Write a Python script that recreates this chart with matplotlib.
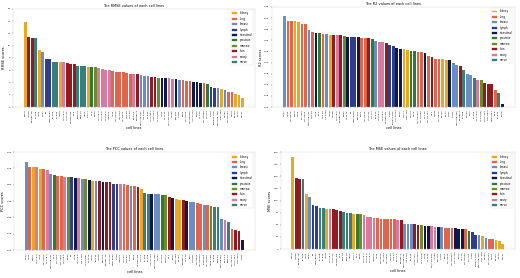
import matplotlib
matplotlib.use('Agg')
import matplotlib.pyplot as plt
from matplotlib.patches import Patch

# tissue types and their colours (legend order)
tissue_names = ['kidney', 'lung', 'breast', 'lymph', 'intestinal',
                'prostate', 'marrow', 'skin', 'ovary', 'nerve']
tissue_colors = ['#E8A825', '#E0654D', '#6A8DC4', '#2F3D8C', '#0E1A4E',
                 '#2F7A34', '#6E8A2C', '#931B1F', '#D87A9B', '#3A7E79']

# cell line names for each tissue
cell_line_pool = {
    'kidney': ['786-0', 'A498', 'ACHN', 'CAKI-1', 'RXF 393', 'SN12C', 'TK-10', 'UO-31',
               'SN12K1', '769-P', 'OS-RC-2', 'CAKI-2'],
    'lung': ['A549', 'NCI-H460', 'NCI-H23', 'NCI-H522', 'HOP-62', 'HOP-92', 'EKVX',
             'NCI-H226', 'NCI-H322M', 'NCI-H1650', 'NCI-H2122', 'MSTO', 'NCI-H520',
             'PC-9', 'CALU-3'],
    'breast': ['MCF7', 'MDA-MB-231', 'HS 578T', 'BT-549', 'T-47D', 'MDA-MB-468', 'ZR751',
               'KPL1', 'OCUBM', 'EFM192B', 'MDAMB436', 'HCC1937'],
    'lymph': ['SR', 'RPMI-8226', 'L-428', 'KARPAS-299', 'DOHH-2', 'SU-DHL-4'],
    'intestinal': ['HT29', 'HCT116', 'SW-620', 'COLO 205', 'KM12', 'HCT-15', 'DLD1',
                   'LOVO', 'RKO', 'SW837'],
    'prostate': ['PC-3', 'DU-145', 'LNCAP', 'VCAP', '22RV1'],
    'marrow': ['K-562', 'HL-60(TB)', 'MOLT-4', 'CCRF-CEM', 'MV4-11'],
    'skin': ['A2058', 'SK-MEL-28', 'UACC-62', 'MALME-3M', 'M14', 'SK-MEL-5', 'UACC-257',
             'LOX IMVI', 'RPMI7951', 'A375', 'SK-MEL-2'],
    'ovary': ['OVCAR-3', 'OVCAR-4', 'OVCAR-5', 'OVCAR-8', 'IGROV1', 'SK-OV-3',
              'NCI/ADR-RES', 'A2780', 'ES2'],
    'nerve': ['SF-268', 'SF-295', 'SF-539', 'SNB-19', 'SNB-75', 'U251', 'T98G'],
}

# RMSE / MSE panels (same ordering)
err_tissues = ['kidney', 'skin', 'skin', 'nerve', 'kidney', 'breast', 'lymph', 'lymph', 'nerve', 'nerve',
               'kidney', 'ovary', 'skin', 'skin', 'skin', 'nerve', 'nerve', 'nerve', 'kidney', 'prostate',
               'marrow', 'ovary', 'ovary', 'ovary', 'ovary', 'lung', 'lung', 'lung', 'lung', 'lung',
               'lung', 'ovary', 'skin', 'breast', 'breast', 'breast', 'skin', 'skin', 'marrow', 'intestinal',
               'intestinal', 'ovary', 'ovary', 'intestinal', 'breast', 'lung', 'lung', 'lung', 'intestinal', 'intestinal',
               'intestinal', 'lung', 'prostate', 'lymph', 'lymph', 'breast', 'kidney', 'breast', 'lung', 'lung',
               'kidney', 'kidney', 'kidney']
rmse_values = [13.82, 11.42, 11.26, 11.21, 9.36, 8.92, 7.89, 7.78, 7.40, 7.38,
               7.29, 7.27, 7.24, 7.07, 6.96, 6.75, 6.69, 6.64, 6.53, 6.51,
               6.47, 6.42, 6.20, 6.09, 5.98, 5.88, 5.77, 5.71, 5.66, 5.49,
               5.39, 5.37, 5.33, 5.22, 5.06, 5.00, 4.95, 4.90, 4.79, 4.77,
               4.68, 4.66, 4.57, 4.55, 4.46, 4.41, 4.30, 4.24, 4.13, 4.08,
               3.97, 3.86, 3.70, 3.26, 3.16, 3.05, 2.94, 2.83, 2.50, 2.39,
               2.12, 1.96, 1.41]
mse_values = [190.4, 147.3, 145.2, 145.0, 113.0, 108.2, 91.1, 89.1, 84.3, 84.1,
              83.6, 83.4, 83.2, 80.8, 78.8, 76.7, 75.4, 74.7, 73.3, 72.6,
              72.4, 71.2, 67.1, 65.8, 64.4, 63.7, 63.0, 62.3, 62.1, 61.7,
              61.0, 60.3, 59.6, 52.7, 52.1, 51.9, 51.4, 49.3, 49.1, 47.9,
              47.3, 46.6, 45.9, 45.7, 45.2, 44.5, 43.8, 43.2, 42.5, 41.8,
              41.1, 40.4, 37.7, 35.6, 29.5, 28.8, 26.0, 23.3, 21.2, 20.5,
              19.2, 17.1, 10.3]

# R2 panel
r2_tissues = ['breast', 'lung', 'lung', 'kidney', 'kidney', 'lung', 'lung', 'breast', 'lung', 'intestinal',
              'prostate', 'lung', 'breast', 'kidney', 'skin', 'ovary', 'skin', 'marrow', 'intestinal', 'lymph',
              'lymph', 'intestinal', 'lung', 'lung', 'skin', 'prostate', 'breast', 'ovary', 'ovary', 'skin',
              'lymph', 'lymph', 'intestinal', 'intestinal', 'kidney', 'kidney', 'prostate', 'prostate', 'lung', 'lung',
              'intestinal', 'lung', 'skin', 'lung', 'lung', 'kidney', 'kidney', 'intestinal', 'breast', 'breast',
              'skin', 'nerve', 'breast', 'breast', 'nerve', 'ovary', 'marrow', 'skin', 'skin', 'skin',
              'lung', 'nerve', 'intestinal']
r2_values = [0.410, 0.389, 0.387, 0.386, 0.384, 0.374, 0.372, 0.347, 0.336, 0.335,
             0.334, 0.329, 0.327, 0.326, 0.325, 0.324, 0.323, 0.320, 0.317, 0.316,
             0.316, 0.315, 0.312, 0.311, 0.309, 0.305, 0.299, 0.294, 0.293, 0.288,
             0.281, 0.275, 0.264, 0.263, 0.261, 0.257, 0.254, 0.253, 0.248, 0.246,
             0.245, 0.231, 0.227, 0.218, 0.216, 0.215, 0.213, 0.212, 0.197, 0.189,
             0.186, 0.167, 0.149, 0.144, 0.129, 0.122, 0.120, 0.107, 0.104, 0.102,
             0.077, 0.065, 0.012]

# PCC panel
pcc_tissues = ['breast', 'lung', 'kidney', 'ovary', 'kidney', 'lung', 'ovary', 'breast', 'prostate', 'lung',
               'lung', 'ovary', 'marrow', 'lymph', 'intestinal', 'ovary', 'breast', 'marrow', 'intestinal', 'kidney',
               'breast', 'skin', 'intestinal', 'skin', 'skin', 'lymph', 'lymph', 'ovary', 'lung', 'lung',
               'breast', 'lung', 'skin', 'kidney', 'nerve', 'nerve', 'intestinal', 'breast', 'breast', 'prostate',
               'marrow', 'skin', 'intestinal', 'kidney', 'kidney', 'skin', 'intestinal', 'breast', 'breast', 'lung',
               'lung', 'breast', 'lung', 'marrow', 'nerve', 'nerve', 'breast', 'ovary', 'nerve', 'lung',
               'skin', 'skin', 'intestinal']
pcc_values = [0.805, 0.765, 0.762, 0.759, 0.747, 0.741, 0.732, 0.698, 0.686, 0.680,
              0.677, 0.674, 0.668, 0.667, 0.664, 0.658, 0.657, 0.652, 0.643, 0.634,
              0.633, 0.631, 0.630, 0.628, 0.624, 0.609, 0.608, 0.606, 0.603, 0.600,
              0.588, 0.587, 0.582, 0.563, 0.521, 0.520, 0.519, 0.514, 0.511, 0.508,
              0.505, 0.487, 0.481, 0.465, 0.462, 0.456, 0.453, 0.444, 0.438, 0.429,
              0.425, 0.419, 0.413, 0.407, 0.398, 0.397, 0.282, 0.279, 0.260, 0.193,
              0.187, 0.174, 0.092]

color_of = dict(zip(tissue_names, tissue_colors))


def name_bars(tissue_seq):
    used = {t: 0 for t in tissue_names}
    names = []
    for t in tissue_seq:
        names.append(cell_line_pool[t][used[t]])
        used[t] += 1
    return names


def draw(ax, metric, tissue_seq, values, ylim, ystep):
    labels = name_bars(tissue_seq)
    x = list(range(len(values)))
    ax.bar(x, values, color=[color_of[t] for t in tissue_seq], width=0.8)
    ax.set_xticks(x)
    ax.set_xticklabels(labels, rotation=90, fontsize=7)
    ax.set_ylim(*ylim)
    n = int(round((ylim[1] - ylim[0]) / ystep))
    ax.set_yticks([ylim[0] + i * ystep for i in range(n + 1)])
    ax.tick_params(axis='y', labelsize=7)
    ax.set_title('The %s values of each cell lines' % metric, fontsize=10)
    ax.set_ylabel('%s scores' % metric, fontsize=10)
    ax.set_xlabel('cell lines', fontsize=10)
    for s in ax.spines.values():
        s.set_color('#bbbbbb')
    handles = [Patch(color=c, label=t) for t, c in zip(tissue_names, tissue_colors)]
    ax.legend(handles=handles, loc='upper right', fontsize=8)


fig = plt.figure(figsize=(20.8, 11.12), dpi=25)

ax1 = fig.add_axes([0.025, 0.615, 0.465, 0.353])
draw(ax1, 'RMSE', err_tissues, rmse_values, (0, 16), 2)

ax2 = fig.add_axes([0.523, 0.615, 0.467, 0.36])
draw(ax2, 'R2', r2_tissues, r2_values, (0, 0.45), 0.05)

ax3 = fig.add_axes([0.027, 0.10, 0.463, 0.353])
draw(ax3, 'PCC', pcc_tissues, pcc_values, (0, 0.9), 0.15)

ax4 = fig.add_axes([0.54, 0.104, 0.45, 0.349])
draw(ax4, 'MSE', err_tissues, mse_values, (0, 200), 25)

fig.savefig('out.png', dpi=25)
